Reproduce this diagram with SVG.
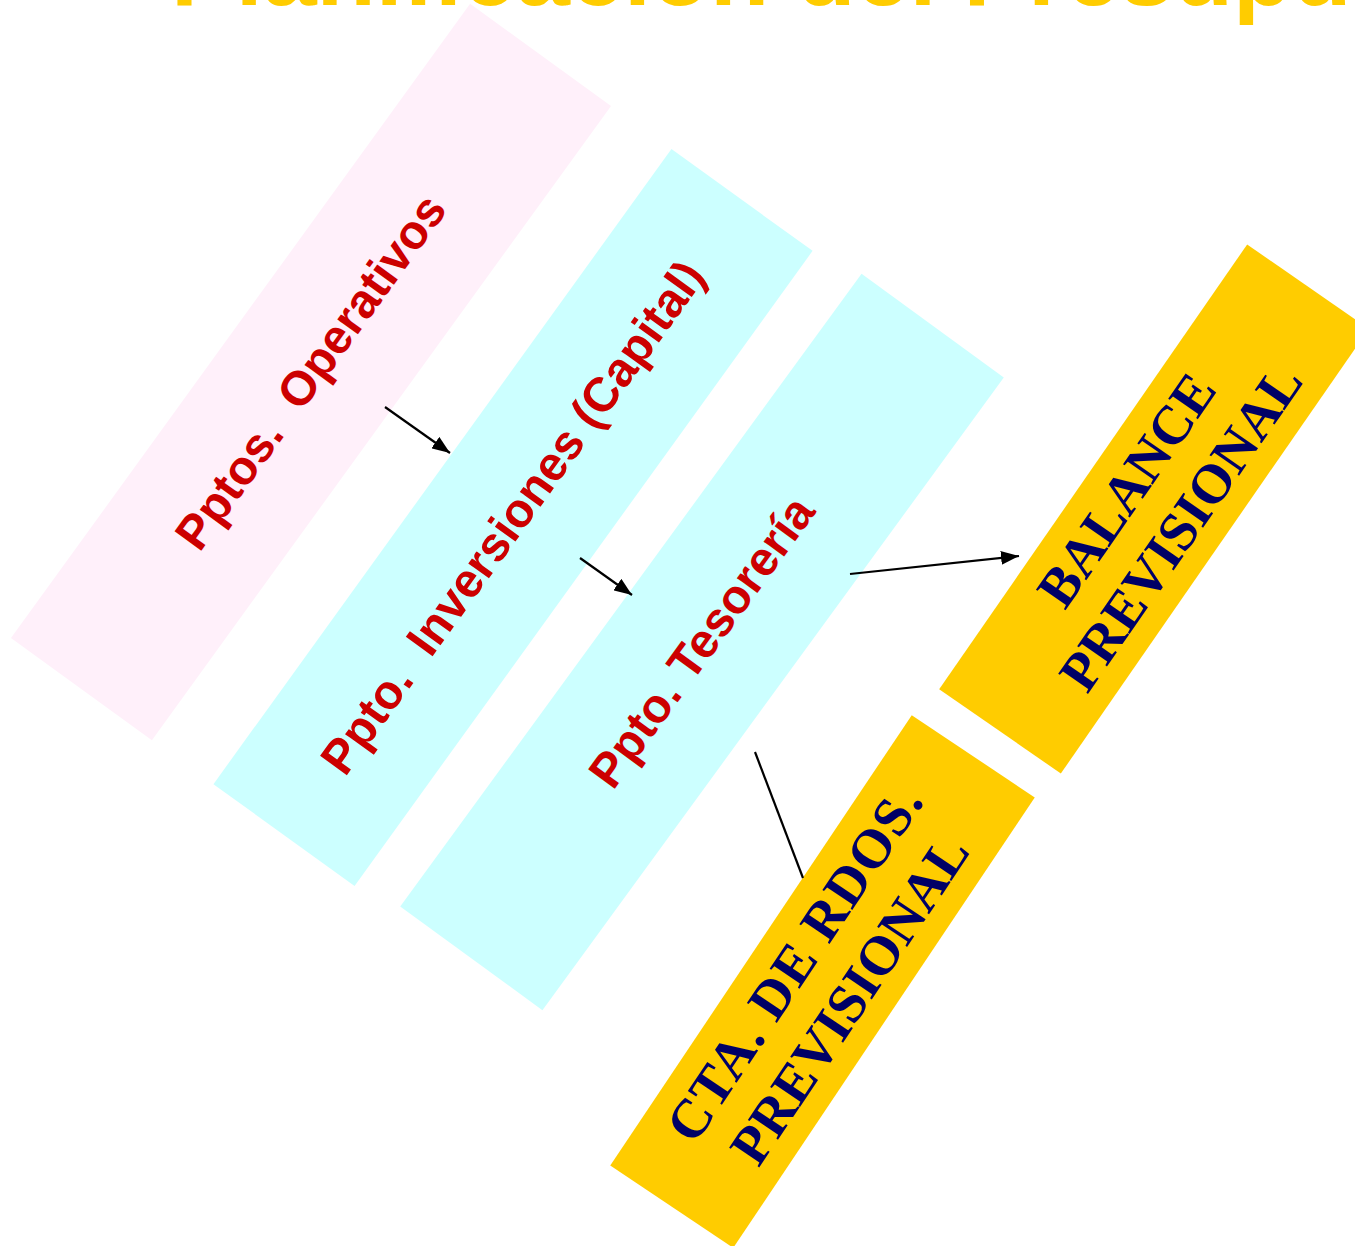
<svg xmlns="http://www.w3.org/2000/svg" width="1355" height="1246" viewBox="0 0 1355 1246">
  <defs>
    <style>
      .title { font-family: "Liberation Sans", Arial, sans-serif; font-weight: bold; font-size: 97px; fill: #FFCC00; }
      .red { font-family: "Liberation Sans", Arial, sans-serif; font-weight: bold; font-size: 48px; fill: #CC0000; text-anchor: middle; white-space: pre; }
      .navy { font-family: "Liberation Serif", "Times New Roman", serif; font-weight: bold; font-size: 55px; fill: #000066; text-anchor: middle; }
      .conn { stroke: #000000; stroke-width: 2.2; fill: none; }
    </style>
    <marker id="arr" markerUnits="userSpaceOnUse" markerWidth="20" markerHeight="14" refX="18" refY="7" orient="auto">
      <path d="M0,0 L18,7 L0,14 z" fill="#000000"/>
    </marker>
  </defs>
  <rect width="1355" height="1246" fill="#FFFFFF"/>

  <text class="title" x="171" y="5">Planificación del Presupuesto</text>

  <g id="node-operativos" transform="translate(311,372) rotate(-54.1)">
    <rect x="-391.5" y="-87" width="783" height="174" fill="#FFF0FA"/>
    <text class="red" x="0" y="16" xml:space="preserve">Pptos.  Operativos</text>
  </g>

  <g id="node-inversiones" transform="translate(513,517.5) rotate(-54.2)">
    <rect x="-391.5" y="-87" width="783" height="174" fill="#CCFFFF"/>
    <text class="red" x="0" y="16" xml:space="preserve">Ppto.  Inversiones (Capital)</text>
  </g>

  <g id="node-tesoreria" transform="translate(702,642) rotate(-53.9)">
    <rect x="-391.5" y="-88" width="783" height="176" fill="#CCFFFF"/>
    <text class="red" x="0" y="16">Ppto. Tesorería</text>
  </g>

  <g id="node-balance" transform="translate(1154,509) rotate(-55.3)">
    <rect x="-270.5" y="-74" width="541" height="148" fill="#FFCC00"/>
    <text class="navy" x="0" y="-15">BALANCE</text>
    <text class="navy" x="0" y="51">PREVISIONAL</text>
  </g>

  <g id="node-cta" transform="translate(822.5,981.5) rotate(-56.2)">
    <rect x="-271" y="-74" width="542" height="148" fill="#FFCC00"/>
    <text class="navy" x="0" y="-15" letter-spacing="1.5">CTA. DE RDOS.</text>
    <text class="navy" x="0" y="51">PREVISIONAL</text>
  </g>

  <g id="connectors">
    <line class="conn" x1="385" y1="407" x2="450" y2="453" marker-end="url(#arr)"/>
    <line class="conn" x1="580" y1="558" x2="632" y2="595" marker-end="url(#arr)"/>
    <line class="conn" x1="850" y1="574" x2="1019" y2="556" marker-end="url(#arr)"/>
    <line class="conn" x1="755" y1="752" x2="803" y2="878"/>
  </g>
</svg>
